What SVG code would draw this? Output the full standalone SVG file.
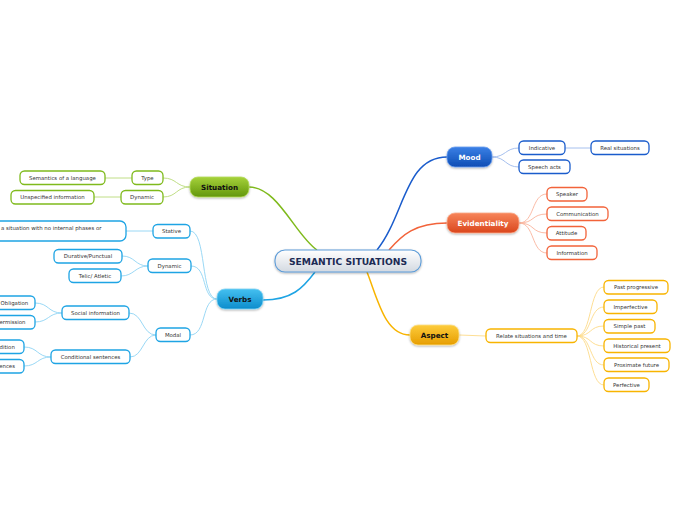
<svg xmlns="http://www.w3.org/2000/svg" width="696" height="520" viewBox="0 0 696 520">
<defs>
<linearGradient id="gC" x1="0" y1="0" x2="0" y2="1"><stop offset="0" stop-color="#ffffff"/><stop offset="1" stop-color="#d3d9e1"/></linearGradient>
<linearGradient id="gS" x1="0" y1="0" x2="0" y2="1"><stop offset="0" stop-color="#a6d23a"/><stop offset="1" stop-color="#62960c"/></linearGradient>
<linearGradient id="gV" x1="0" y1="0" x2="0" y2="1"><stop offset="0" stop-color="#45c0f0"/><stop offset="1" stop-color="#0c8ccc"/></linearGradient>
<linearGradient id="gM" x1="0" y1="0" x2="0" y2="1"><stop offset="0" stop-color="#3a80e6"/><stop offset="1" stop-color="#0e4db4"/></linearGradient>
<linearGradient id="gE" x1="0" y1="0" x2="0" y2="1"><stop offset="0" stop-color="#f7855a"/><stop offset="1" stop-color="#da461c"/></linearGradient>
<linearGradient id="gA" x1="0" y1="0" x2="0" y2="1"><stop offset="0" stop-color="#fdcc3c"/><stop offset="1" stop-color="#e69d00"/></linearGradient>
<filter id="sh" x="-20%" y="-30%" width="140%" height="170%"><feDropShadow dx="0" dy="1" stdDeviation="0.8" flood-color="#000" flood-opacity="0.3"/></filter>
</defs>
<style>
text{font-family:"DejaVu Sans","Verdana",sans-serif;text-anchor:middle}
.lf{fill:#fff;stroke-width:1.3}
.lt{font-size:5.4px;fill:#333}
.mt{font-size:7.2px;font-weight:bold}
.ct{font-size:9.2px;font-weight:bold;fill:#1c2b55}
.c{fill:none}
.sg{stroke:#7fba1c}.sv{stroke:#1ea4e4}.sm{stroke:#1a5ccc}.se{stroke:#f2633a}.sa{stroke:#f8b400}
.lg{stroke:#b9da78}.lv{stroke:#8fd4f4}.lm{stroke:#9cb9ec}.le{stroke:#f9b39c}.la{stroke:#fdda88}
</style>
<g id="connectors">
<path class="c sg" stroke-width="1.5" d="M249,187 C278,187 295,235 317,250"/>
<path class="c sv" stroke-width="1.5" d="M263,300 C292,300 303,288 315,272"/>
<path class="c sm" stroke-width="1.5" d="M447,157 C405,157 405,215 377,250"/>
<path class="c se" stroke-width="1.5" d="M447,223 C415,223 402,235 389,250"/>
<path class="c sa" stroke-width="1.5" d="M367,272 C378,300 385,335 410,335"/>
<g stroke-width="0.9" class="c">
<path class="lg" d="M190,187 C176,187 177,178 163,178"/>
<path class="lg" d="M190,187 C176,187 177,197 163,197"/>
<path class="lg" d="M132,178 L105,178"/>
<path class="lg" d="M121,197 L94,197"/>
<path class="lv" d="M217,299 C200,299 207,231 190,231"/>
<path class="lv" d="M217,299 C201,299 208,266 191,266"/>
<path class="lv" d="M217,299 C201,299 207,335 190,335"/>
<path class="lv" d="M153,231 L126,231"/>
<path class="lv" d="M148,266 C135,266 135,256 122,256"/>
<path class="lv" d="M148,266 C135,266 134,276 121,276"/>
<path class="lv" d="M156,335 C142,335 143,313 129,313"/>
<path class="lv" d="M156,335 C143,335 143,357 130,357"/>
<path class="lv" d="M62,313 C48,313 49,303 35,303"/>
<path class="lv" d="M62,313 C48,313 49,322 35,322"/>
<path class="lv" d="M51,357 C37,357 38,347 24,347"/>
<path class="lv" d="M51,357 C37,357 38,366 24,366"/>
<path class="lm" d="M492,157 C506,157 505,148 519,148"/>
<path class="lm" d="M492,157 C506,157 505,167 519,167"/>
<path class="lm" d="M565,148 L591,148"/>
<path class="le" d="M519,223 C535,223 531,194 547,194"/>
<path class="le" d="M519,223 C535,223 531,214 547,214"/>
<path class="le" d="M519,223 C535,223 531,233 547,233"/>
<path class="le" d="M519,223 C535,223 531,253 547,253"/>
<path class="la" d="M459,335 L486,336"/>
<path class="la" d="M577,336 C592,336 589,287 604,287"/>
<path class="la" d="M577,336 C592,336 589,307 604,307"/>
<path class="la" d="M577,336 C592,336 589,326 604,326"/>
<path class="la" d="M577,336 C592,336 589,346 604,346"/>
<path class="la" d="M577,336 C592,336 589,365 604,365"/>
<path class="la" d="M577,336 C592,336 589,385 604,385"/>
</g>
</g>
<g id="central"><rect x="275" y="250" width="146" height="22" rx="10" fill="url(#gC)" stroke="#5d9cd8" stroke-width="1.1" filter="url(#sh)"/><text class="ct" x="348" y="265.3">SEMANTIC SITUATIONS</text></g>
<g id="situation"><rect x="190" y="177" width="59" height="20" rx="8" fill="url(#gS)" stroke="#b5dc5c" stroke-width="0.8" filter="url(#sh)"/><text class="mt" x="219.5" y="189.6" fill="#111">Situation</text></g>
<g id="verbs"><rect x="217" y="289" width="46" height="20" rx="8" fill="url(#gV)" stroke="#7ed3f5" stroke-width="0.8" filter="url(#sh)"/><text class="mt" x="240" y="301.6" fill="#111">Verbs</text></g>
<g id="mood"><rect x="447" y="147" width="45" height="20" rx="8" fill="url(#gM)" stroke="#6c9ff0" stroke-width="0.8" filter="url(#sh)"/><text class="mt" x="469.5" y="159.6" fill="#fff">Mood</text></g>
<g id="evidentiality"><rect x="447" y="213" width="72" height="20" rx="8" fill="url(#gE)" stroke="#fbab8c" stroke-width="0.8" filter="url(#sh)"/><text class="mt" x="483" y="225.6" fill="#fff">Evidentiality</text></g>
<g id="aspect"><rect x="410" y="325" width="49" height="20" rx="8" fill="url(#gA)" stroke="#fde08a" stroke-width="0.8" filter="url(#sh)"/><text class="mt" x="434.5" y="337.6" fill="#111">Aspect</text></g>
<g id="type"><rect class="lf sg" x="132" y="171" width="31" height="13.5" rx="4.5"/><text class="lt" x="147.5" y="179.8">Type</text></g>
<g id="semantics"><rect class="lf sg" x="20" y="171" width="85" height="13.5" rx="4.5"/><text class="lt" x="62.5" y="179.8">Semantics of a language</text></g>
<g id="dynamic-s"><rect class="lf sg" x="121" y="190.5" width="42" height="13.5" rx="4.5"/><text class="lt" x="142" y="199.3">Dynamic</text></g>
<g id="unspecified"><rect class="lf sg" x="11" y="190.5" width="83" height="13.5" rx="4.5"/><text class="lt" x="52.5" y="199.3">Unspecified information</text></g>
<g id="stative"><rect class="lf sv" x="153" y="224.5" width="37" height="13.5" rx="4.5"/><text class="lt" x="171.5" y="233.3">Stative</text></g>
<g id="stative-desc"><rect class="lf sv" x="-20" y="221" width="146" height="20" rx="6"/><text class="lt" x="1" y="230" style="text-anchor:start">a situation with no internal phases or</text></g>
<g id="dynamic-v"><rect class="lf sv" x="148" y="259" width="43" height="13.5" rx="4.5"/><text class="lt" x="169.5" y="267.8">Dynamic</text></g>
<g id="durative"><rect class="lf sv" x="54" y="249.5" width="68" height="13.5" rx="4.5"/><text class="lt" x="88" y="258.3">Durative/Punctual</text></g>
<g id="telic"><rect class="lf sv" x="69" y="269" width="52" height="13.5" rx="4.5"/><text class="lt" x="95" y="277.8">Telic/ Atletic</text></g>
<g id="modal"><rect class="lf sv" x="156" y="328" width="34" height="13.5" rx="4.5"/><text class="lt" x="173" y="336.8">Modal</text></g>
<g id="social"><rect class="lf sv" x="62" y="306" width="67" height="13.5" rx="4.5"/><text class="lt" x="95.5" y="314.8">Social information</text></g>
<g id="obligation"><rect class="lf sv" x="-12" y="296" width="47" height="13.5" rx="4.5"/><text class="lt" x="0.5" y="304.8" style="text-anchor:start">Obligation</text></g>
<g id="permission"><rect class="lf sv" x="-13" y="315.5" width="48" height="13.5" rx="4.5"/><text class="lt" x="25.5" y="324.3" style="text-anchor:end">ermission</text></g>
<g id="conditional"><rect class="lf sv" x="51" y="350" width="79" height="13.5" rx="4.5"/><text class="lt" x="90.5" y="358.8">Conditional sentences</text></g>
<g id="condition"><rect class="lf sv" x="-20" y="340" width="44" height="13.5" rx="4.5"/><text class="lt" x="14.8" y="348.8" style="text-anchor:end">dition</text></g>
<g id="sentences"><rect class="lf sv" x="-30" y="359.5" width="54" height="13.5" rx="4.5"/><text class="lt" x="15" y="368.3" style="text-anchor:end">ences</text></g>
<g id="indicative"><rect class="lf sm" x="519" y="141" width="46" height="13.5" rx="4.5"/><text class="lt" x="542" y="149.8">Indicative</text></g>
<g id="real"><rect class="lf sm" x="591" y="141" width="58" height="13.5" rx="4.5"/><text class="lt" x="620" y="149.8">Real situations</text></g>
<g id="speech"><rect class="lf sm" x="519" y="160" width="51" height="13.5" rx="4.5"/><text class="lt" x="544.5" y="168.8">Speech acts</text></g>
<g id="speaker"><rect class="lf se" x="547" y="187.5" width="40" height="13.5" rx="4.5"/><text class="lt" x="567" y="196.3">Speaker</text></g>
<g id="communication"><rect class="lf se" x="547" y="207" width="61" height="13.5" rx="4.5"/><text class="lt" x="577.5" y="215.8">Communication</text></g>
<g id="attitude"><rect class="lf se" x="547" y="226.5" width="39" height="13.5" rx="4.5"/><text class="lt" x="566.5" y="235.3">Attitude</text></g>
<g id="information"><rect class="lf se" x="547" y="246" width="50" height="13.5" rx="4.5"/><text class="lt" x="572" y="254.8">Information</text></g>
<g id="relate"><rect class="lf sa" x="486" y="329" width="91" height="13.5" rx="4.5"/><text class="lt" x="531.5" y="337.8">Relate situations and time</text></g>
<g id="past-progressive"><rect class="lf sa" x="604" y="280.5" width="64" height="13.5" rx="4.5"/><text class="lt" x="636" y="289.3">Past progressive</text></g>
<g id="imperfective"><rect class="lf sa" x="604" y="300" width="53" height="13.5" rx="4.5"/><text class="lt" x="630.5" y="308.8">Imperfective</text></g>
<g id="simple-past"><rect class="lf sa" x="604" y="319.5" width="51" height="13.5" rx="4.5"/><text class="lt" x="629.5" y="328.3">Simple past</text></g>
<g id="historical-present"><rect class="lf sa" x="604" y="339" width="66" height="13.5" rx="4.5"/><text class="lt" x="637" y="347.8">Historical present</text></g>
<g id="proximate-future"><rect class="lf sa" x="604" y="358" width="65" height="13.5" rx="4.5"/><text class="lt" x="636.5" y="366.8">Proximate future</text></g>
<g id="perfective"><rect class="lf sa" x="604" y="378" width="45" height="13.5" rx="4.5"/><text class="lt" x="626.5" y="386.8">Perfective</text></g>
</svg>
